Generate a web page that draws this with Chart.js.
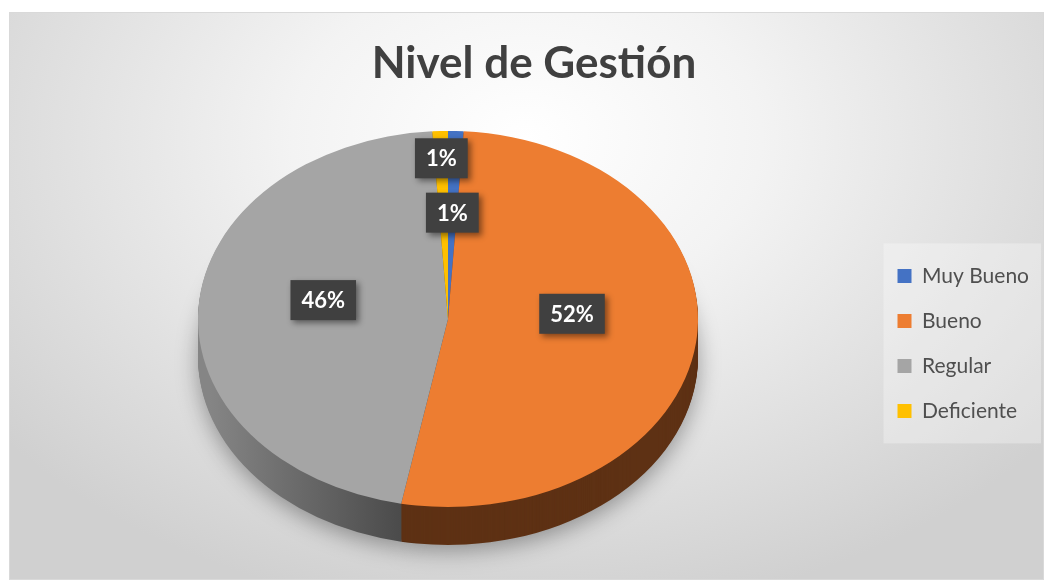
<!DOCTYPE html>
<html>
<head>
<meta charset="utf-8">
<script src="https://cdn.jsdelivr.net/npm/chart.js@4/dist/chart.umd.min.js"></script>
<style>
  body { margin: 0; background: #ffffff; }
  #marco {
    position: absolute; left: 9px; top: 12px; width: 1035px; height: 568px;
    border: 1px solid #d9d9d9; box-sizing: border-box;
    background: radial-gradient(ellipse 65% 85% at 50% 22%, #ffffff 0%, #f3f3f3 35%, #d0d0d0 100%);
  }
  canvas { position: absolute; left: 0; top: 0; }
</style>
</head>
<body>
<div id="marco"><canvas id="grafico" width="1035" height="568"></canvas></div>
<script>
const titulo = 'Nivel de Gestión';
const categorias = ['Muy Bueno', 'Bueno', 'Regular', 'Deficiente'];
const porcentajes = [1, 52, 46, 1];
const colores = ['#4472C4', '#ED7D31', '#A5A5A5', '#FFC000'];
const coloresLado = ['#26447a', '#5e3114', '#555555', '#8a6a00'];

// geometria de la elipse en pantalla (pixeles del canvas)
const CX = 438, CY = 306, RX = 250, RY = 188, PROF = 38;
// posicion de las etiquetas: fraccion del radio y ajuste vertical
const radioEtiqueta = [0.55, 0.5, 0.5, 0.85];
const ajusteEtiqueta = [-3, -17, -13, -1];

let sx = 1, sy = 1;

const pie3d = {
  id: 'pie3d',
  beforeDraw(chart) {
    // fondo claro detras de la leyenda
    const ctx = chart.ctx;
    const it = chart.legend.legendHitBoxes;
    const top = it[0].top - 22, bottom = it[it.length - 1].top + it[it.length - 1].height + 22;
    const left = it[0].left - 14;
    ctx.save();
    ctx.fillStyle = 'rgba(255,255,255,0.3)';
    ctx.fillRect(left, top, 1031 - left, bottom - top);
    ctx.restore();
  },
  beforeDatasetsDraw(chart) {
    const ctx = chart.ctx;
    const meta = chart.getDatasetMeta(0);
    const a0 = meta.data[0];
    const cx = a0.x, cy = a0.y, r = a0.outerRadius;
    sx = RX / r; sy = RY / r;
    ctx.save();
    ctx.translate(CX, CY);
    ctx.scale(sx, sy);
    ctx.translate(-cx, -cy);
    // degradado para el lado gris
    const gx = x => cx + (x - CX) / sx;
    const grad = ctx.createLinearGradient(gx(200), 0, gx(410), 0);
    grad.addColorStop(0, '#858585');
    grad.addColorStop(1, '#454545');
    for (let d = PROF; d >= 1; d--) {
      ctx.save();
      ctx.translate(0, d / sy);
      if (d === PROF) {
        ctx.shadowColor = 'rgba(0,0,0,0.35)';
        ctx.shadowBlur = 22;
        ctx.shadowOffsetY = 6;
      }
      meta.data.forEach((arc, i) => {
        const bg = arc.options.backgroundColor;
        arc.options.backgroundColor = i === 2 ? grad : coloresLado[i];
        arc.draw(ctx);
        arc.options.backgroundColor = bg;
      });
      ctx.restore();
    }
  },
  afterDatasetsDraw(chart) {
    const ctx = chart.ctx;
    ctx.restore();
    const meta = chart.getDatasetMeta(0);
    ctx.save();
    ctx.font = 'bold 22px Lato';
    ctx.textAlign = 'center';
    ctx.textBaseline = 'middle';
    meta.data.forEach((arc, i) => {
      const mid = (arc.startAngle + arc.endAngle) / 2;
      const x = CX + RX * radioEtiqueta[i] * Math.cos(mid);
      const y = CY + RY * radioEtiqueta[i] * Math.sin(mid) + ajusteEtiqueta[i];
      const txt = porcentajes[i] + '%';
      const w = ctx.measureText(txt).width + 22;
      const h = 40;
      ctx.save();
      ctx.shadowColor = 'rgba(0,0,0,0.45)';
      ctx.shadowBlur = 6;
      ctx.shadowOffsetX = 3;
      ctx.shadowOffsetY = 3;
      ctx.fillStyle = '#404040';
      ctx.fillRect(x - w / 2, y - h / 2, w, h);
      ctx.restore();
      ctx.fillStyle = '#ffffff';
      ctx.fillText(txt, x, y + 1);
    });
    ctx.restore();
  }
};

new Chart(document.getElementById('grafico'), {
  type: 'pie',
  data: {
    labels: categorias,
    datasets: [{
      data: porcentajes,
      backgroundColor: colores,
      borderWidth: 0
    }]
  },
  options: {
    responsive: false,
    animation: false,
    layout: { padding: { left: 19, right: 6, bottom: 0 } },
    plugins: {
      title: {
        display: true,
        text: titulo,
        color: '#404040',
        font: { family: 'Lato', size: 44, weight: 'bold' },
        padding: { top: 24, bottom: 16 }
      },
      legend: {
        position: 'right',
        fullSize: false,
        labels: {
          boxWidth: 14,
          boxHeight: 14,
          padding: 24,
          color: '#4f4f4f',
          font: { family: 'Lato', size: 21 }
        }
      },
      tooltip: { enabled: false }
    }
  },
  plugins: [pie3d]
});
</script>
</body>
</html>
